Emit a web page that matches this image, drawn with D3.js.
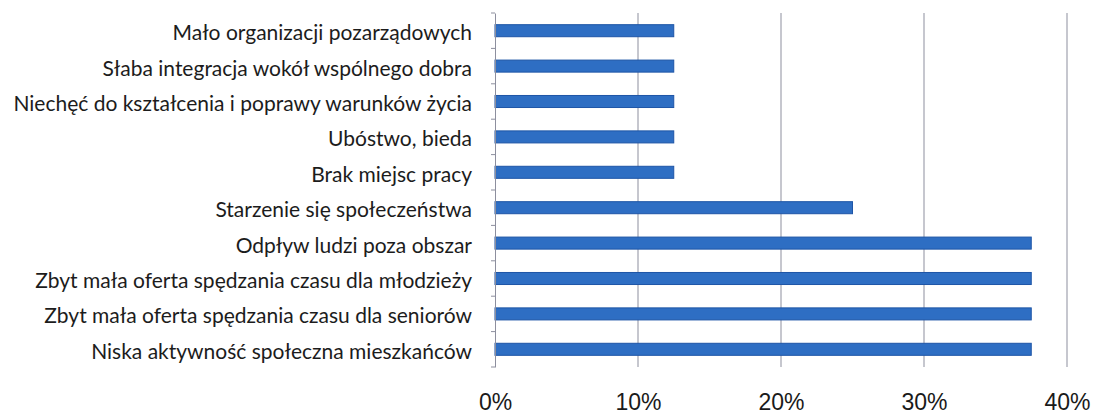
<!DOCTYPE html>
<html>
<head>
<meta charset="utf-8">
<script src="https://cdn.jsdelivr.net/npm/d3@7"></script>
<style>
  html, body { margin: 0; padding: 0; background: #ffffff; }
  svg { display: block; }
</style>
</head>
<body>
<svg id="chart" width="1095" height="414"></svg>
<script>
// Categories listed top to bottom
const categories = [
  "Mało organizacji pozarządowych",
  "Słaba integracja wokół wspólnego dobra",
  "Niechęć do kształcenia i poprawy warunków życia",
  "Ubóstwo, bieda",
  "Brak miejsc pracy",
  "Starzenie się społeczeństwa",
  "Odpływ ludzi poza obszar",
  "Zbyt mała oferta spędzania czasu dla młodzieży",
  "Zbyt mała oferta spędzania czasu dla seniorów",
  "Niska aktywność społeczna mieszkańców"
];
// Share of answers, in percent
const values = [12.5, 12.5, 12.5, 12.5, 12.5, 25, 37.5, 37.5, 37.5, 37.5];
const xTicks = [0, 10, 20, 30, 40];

(function () {
  const svg = d3.select("#chart");
  const plotLeft = 495, plotRight = 1067, plotTop = 13, plotBottom = 367;
  const axisColor = "#8d8f9e";

  const x = d3.scaleLinear().domain([0, 40]).range([plotLeft, plotRight]);
  const y = d3.scaleBand().domain(categories).range([plotTop, plotBottom])
    .paddingInner(0.66).paddingOuter(0.33);

  // vertical gridlines
  svg.append("g")
    .selectAll("line")
    .data(xTicks.slice(1))
    .join("line")
    .attr("x1", d => x(d)).attr("x2", d => x(d))
    .attr("y1", plotTop).attr("y2", plotBottom)
    .attr("stroke", axisColor).attr("stroke-width", 1);

  // bars
  svg.append("g")
    .selectAll("rect")
    .data(values)
    .join("rect")
    .attr("x", x(0))
    .attr("y", (d, i) => y(categories[i]))
    .attr("width", d => x(d) - x(0))
    .attr("height", y.bandwidth())
    .attr("fill", "#2e6ec3")
    .attr("stroke", "#1e55a6")
    .attr("stroke-width", 1);

  // category axis
  const gy = svg.append("g").attr("transform", `translate(${plotLeft},0)`)
    .call(d3.axisLeft(y).tickSize(0).tickPadding(23));
  gy.select(".domain").attr("stroke", axisColor);
  gy.selectAll("text")
    .attr("font-family", "Lato, 'Open Sans', sans-serif")
    .attr("font-size", 21)
    .attr("dy", "0.45em")
    .attr("fill", "#1c1c1c");

  // small marks between categories
  const n = categories.length;
  svg.append("g")
    .selectAll("line")
    .data(d3.range(n + 1))
    .join("line")
    .attr("x1", plotLeft - 4).attr("x2", plotLeft)
    .attr("y1", i => plotTop + i * (plotBottom - plotTop) / n)
    .attr("y2", i => plotTop + i * (plotBottom - plotTop) / n)
    .attr("stroke", axisColor);

  // value axis labels
  const gx = svg.append("g").attr("transform", `translate(0,${plotBottom + 27})`)
    .call(d3.axisBottom(x).tickValues(xTicks).tickSize(0).tickPadding(0).tickFormat(d => d + "%"));
  gx.select(".domain").remove();
  gx.selectAll("text")
    .attr("font-family", "'Liberation Sans', Arial, sans-serif")
    .attr("font-size", 23)
    .attr("fill", "#1a1a1a");
})();
</script>
</body>
</html>
